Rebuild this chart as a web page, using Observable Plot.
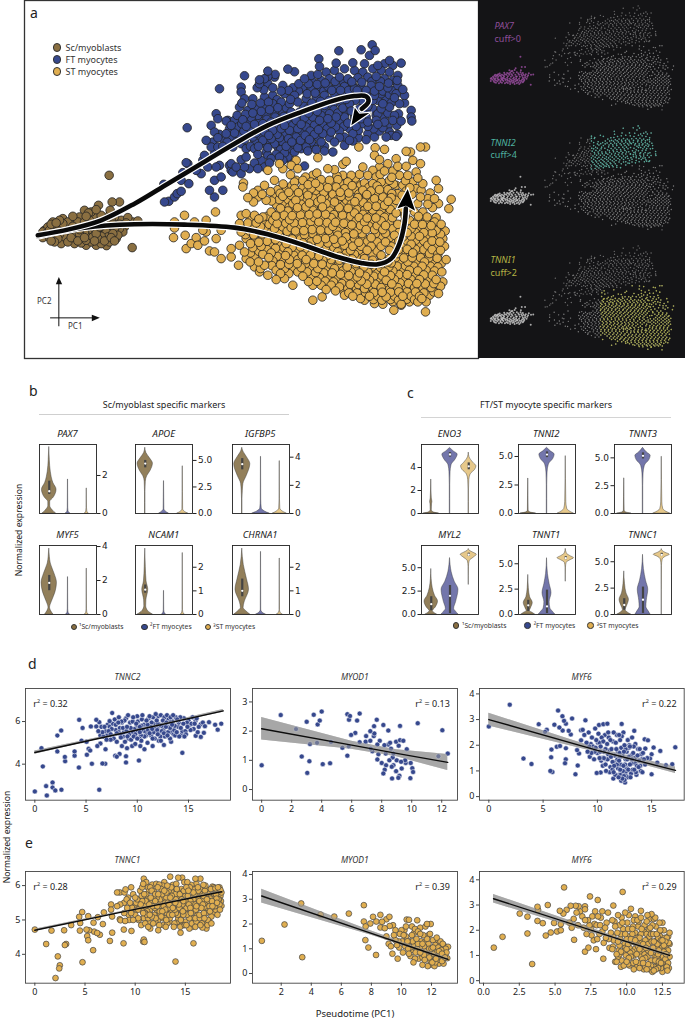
<!DOCTYPE html>
<html><head><meta charset="utf-8">
<script src="https://cdn.jsdelivr.net/npm/d3@7"></script>
<script src="https://cdn.jsdelivr.net/npm/@observablehq/plot@0.6"></script>
<style>
html,body{margin:0;padding:0;background:#fff}
#page{position:relative;width:685px;height:1019px;overflow:hidden;font-family:"Noto Sans",sans-serif;color:#222}
#page svg{position:absolute;background:transparent;overflow:visible;max-width:none}
.t{position:absolute;white-space:nowrap;line-height:1}
.c{position:absolute;border-radius:50%;box-sizing:border-box;border:.6px solid #333}
</style></head><body><div id="page"></div>
<script>
/* ---------- colours ---------- */
const brown="#8A6F41",blue="#36488D",gold="#E0AE50";
const violinBrown="#927F5A",violinBlue="#7376AB",violinGold="#E6C88A";

/* ---------- panel a: PCA positions, read in arbitrary PC units as flat x,y lists ---------- */
const scMyoblasts=[324,525,393,742,333,605,355,605,292,615,285,628,327,630,250,630,262,638,325,645,235,650,278,648,380,652,410,662,395,665,185,655,165,668,150,672,200,665,220,660,245,655,265,660,290,665,310,655,345,665,360,660,130,690,140,680,175,680,195,682,215,678,240,675,260,680,280,685,300,678,320,680,340,685,370,680,125,712,150,722,170,715,190,720,210,712,230,722,250,712,270,725,290,715,310,722,330,712,350,705,365,695,200,700,220,695,250,695,150,700,180,730,220,730,255,735,285,735,316,736,340,722,300,730,
125,695,135,700,145,690,155,695,160,708,170,692,180,700,185,670,195,695,205,705,210,690,225,705,235,688,240,710,255,720,260,700,275,695,275,710,285,700,295,695,305,705,315,695,320,710,335,700,345,695,355,685,375,668,170,668,190,670,210,670,230,665,250,665,270,670,295,680,315,665,335,672,355,672,145,712,160,725,200,725,240,728,265,712,280,722,300,708,325,725,345,715,160,680,205,690,255,648,270,635,340,650,330,660,300,645,175,660,155,665,215,648,190,710,175,702,235,700];
const ftMyocytes=[655,265,730,226,558,382,630,375,1113,133,1013,151,953,175,1080,148,1122,150,1105,165,1200,188,1165,180,1055,187,1005,188,955,198,1090,190,1130,195,1150,190,1175,195,800,212,860,206,880,214,775,238,790,235,820,230,930,225,950,222,975,215,1000,210,1030,205,1060,210,1085,215,1115,205,1140,210,1165,215,1190,225,720,260,720,275,775,250,800,250,845,255,875,262,910,235,935,245,960,240,985,235,1015,230,1040,235,1070,232,1100,230,1125,228,1150,235,1175,240,1205,267,1175,270,730,295,755,295,790,290,815,285,850,280,880,285,905,265,930,268,955,265,980,258,1005,255,1030,258,1055,255,1080,260,1110,255,1135,258,1160,262,1190,255,645,340,715,320,740,330,765,325,790,320,815,310,840,305,865,310,890,305,915,295,945,290,970,285,1000,280,1025,285,1050,280,1130,300,1155,295,1180,292,1210,308,1230,330,1230,350,1232,362,650,355,680,360,700,360,725,358,750,352,770,345,795,345,820,338,845,335,870,335,895,335,920,325,945,320,970,315,995,315,1020,310,1045,310,1115,325,1140,325,1165,320,1192,340,1150,350,1125,345,1095,350,1080,355,640,395,655,402,685,385,710,380,735,378,760,372,785,370,810,365,835,360,860,360,885,360,910,352,935,350,960,345,985,340,1010,338,1035,335,1060,350,615,420,635,425,665,415,690,410,715,405,740,400,765,398,790,395,815,390,840,385,865,390,890,385,915,380,940,375,965,372,990,368,1015,365,1040,368,1065,378,1100,378,1130,372,1160,380,1187,375,1165,395,1185,408,1190,402,665,438,695,440,720,430,760,420,785,420,810,415,835,412,862,415,885,410,912,405,940,402,965,400,990,395,1015,392,1055,400,1100,400,1135,392,640,460,735,445,760,445,800,442,830,440,855,438,880,432,905,430,930,425,960,425,1000,425,1030,435,1055,422,1095,418,770,462,800,465,825,462,850,458,880,455,900,445,920,452,945,448,970,452,995,455,1045,420,685,495,720,478,735,470,760,488,780,480,805,488,845,480,870,480,910,497,555,487,560,490,605,480,645,500,655,495,690,510,695,515,720,520,745,505,600,520,545,517,640,540,660,530,488,552,563,550,625,570,640,590,665,570,528,580,540,573,490,605,503,603,
800,228,822,222,768,262,788,268,815,262,840,272,862,270,893,250,922,250,948,252,972,248,1002,243,1028,245,1052,244,1082,245,1112,243,1138,243,1162,248,1188,240,1145,272,1120,272,1095,270,1068,270,1042,270,1018,270,992,270,968,272,942,278,918,280,892,272,868,297,828,298,802,305,778,308,752,312,722,308,1210,285,1185,280,1165,283,1140,280,908,318,932,308,958,303,984,300,1010,297,1035,297,855,322,830,322,805,328,780,333,755,338,733,342,708,345,675,362,690,375,722,370,748,365,772,360,797,357,822,350,848,348,873,347,898,345,922,338,948,333,972,330,998,328,1025,323,1145,310,1170,308,1195,310,1130,340,1160,338,1180,345,1200,362,1175,360,1150,365,1125,360,1100,365,1082,370,1072,390,1045,385,1030,350,1005,350,980,355,955,360,925,365,900,372,875,375,850,375,825,375,800,380,775,385,750,388,728,392,700,398,675,400,650,412,630,440,678,425,705,425,730,418,755,410,778,408,803,405,828,402,852,402,877,398,902,392,927,392,952,388,978,385,1003,380,1028,378,1118,385,1145,382,1170,405,1120,410,1155,410,1015,412,985,412,952,412,925,418,898,420,872,425,845,425,820,430,795,432,772,438,748,438,795,455,838,448,865,445,890,442,915,440,940,438,970,438,1030,410,1072,412,690,490,705,500,730,500,810,475,770,505,835,470,860,470,790,500,610,465,650,440,620,500,585,510,520,590,540,540,
1062,300,1085,305,1105,290,1075,325,1100,318,1050,332,1085,338,1115,300,1060,265,1090,280,1120,285,1062,350,1095,335];
const stMyocytes=[1073,440,1122,442,1150,447,1215,453,1258,440,1273,440,1120,465,1228,455,885,480,950,472,1035,483,1135,478,1185,475,1235,480,835,490,870,495,890,505,1025,492,1085,500,1135,500,1160,490,1190,498,1215,498,1258,490,800,510,845,505,980,505,1000,508,1115,510,1150,512,1175,512,1245,515,820,540,885,540,935,525,1025,525,1050,525,1075,522,1100,525,1125,530,1195,525,1220,525,880,545,905,540,930,545,960,538,985,540,1010,538,1040,545,1065,545,1090,548,1115,550,1140,545,1165,540,1185,555,1205,555,1235,545,1265,550,1305,540,725,560,770,570,790,555,830,568,855,565,880,565,905,562,930,565,955,560,980,562,1005,560,1030,565,1060,568,1085,570,1110,572,1135,568,1160,568,1190,580,1215,572,1245,565,1260,570,1312,565,740,592,770,590,795,600,820,590,845,588,870,585,895,590,920,585,945,582,970,588,995,582,1020,588,1045,590,1070,592,1095,595,1120,595,1145,590,1170,592,1195,605,1258,590,1280,595,1300,595,1350,597,757,605,825,612,850,610,875,610,900,612,925,608,950,605,975,610,1000,605,1025,612,1050,612,1075,615,1100,618,1125,618,1150,615,1175,615,1250,610,1280,612,1312,610,550,645,643,635,615,660,580,665,720,645,735,640,760,645,785,650,810,635,835,635,860,632,885,635,910,632,935,630,960,628,985,632,1010,630,1035,635,1060,638,1085,642,1110,640,1135,642,1160,640,1185,638,1240,635,1265,635,1343,625,520,665,520,683,605,690,660,690,715,670,740,668,765,668,790,660,815,660,840,655,865,658,890,655,915,655,940,652,965,655,990,652,1015,655,1040,660,1065,662,1090,665,1115,665,1140,662,1165,665,1225,660,1250,660,1275,662,1300,665,1320,672,517,712,552,705,585,712,615,695,645,715,720,695,745,692,770,690,795,685,820,685,845,680,870,682,895,680,920,678,945,675,970,680,995,678,1020,680,1045,685,1070,688,1095,688,1120,688,1145,688,1175,685,1230,685,1255,685,1280,685,1305,690,1332,692,555,745,570,730,590,735,610,722,625,752,640,755,660,775,690,745,715,735,735,715,760,718,785,712,810,710,835,705,860,705,885,703,910,703,935,700,960,705,985,702,1010,705,1035,710,1060,715,1085,712,1110,712,1140,710,1165,712,1205,710,1230,708,1255,708,1280,710,1305,712,1325,715,712,795,690,770,730,755,755,742,780,738,805,735,830,730,855,730,880,728,905,728,930,725,955,730,980,728,1005,730,1030,735,1055,738,1080,738,1110,738,1140,738,1170,738,1205,735,1230,732,1255,735,1280,735,1305,735,1330,738,735,775,760,770,785,762,810,758,835,755,860,755,885,752,910,752,935,750,960,755,985,752,1010,755,1035,760,1060,762,1085,762,1115,762,1140,765,1210,760,1235,758,1260,760,1285,760,1310,762,1335,778,760,800,790,795,815,782,840,780,865,778,890,778,915,778,940,775,965,780,990,778,1015,780,1040,788,1065,790,1170,788,1195,785,1220,785,1245,785,1270,785,1295,785,1320,790,775,815,800,825,825,810,850,805,875,805,900,802,925,802,950,805,975,805,1000,805,1025,812,1050,815,1075,818,1100,815,1125,815,1150,815,1175,812,1200,810,1225,810,1250,812,1275,810,1300,812,1322,815,825,838,850,835,875,855,905,828,930,830,955,832,980,830,1005,835,1030,840,1055,840,1080,842,1105,840,1130,840,1155,840,1180,838,1205,835,1230,838,1255,838,1280,838,1305,838,1325,845,935,855,960,855,990,855,1015,860,1040,865,1065,865,1090,865,1115,865,1140,862,1165,865,1190,862,1215,862,1240,862,1265,865,1290,862,1312,880,935,900,963,890,1030,885,1055,888,1078,895,1105,888,1130,888,1155,890,1180,888,1205,888,1230,888,1255,888,1285,885,1120,910,1145,912,1175,905,1200,912,1225,905,1250,905,1275,905,1178,930,1200,915,1273,935,
868,523,913,530,947,518,1007,527,1063,533,1137,522,1172,531,1213,541,1250,533,727,548,846,551,872,556,921,553,943,549,973,553,997,548,1022,552,1053,556,1077,557,1103,561,1128,557,1152,556,1177,551,1226,562,757,578,783,582,808,574,837,579,863,576,892,577,917,574,943,571,968,576,992,572,1017,576,1043,578,1073,581,1097,583,1123,584,1148,579,1172,580,1203,585,1232,582,1287,578,811,602,834,598,861,598,884,600,912,599,936,594,961,597,986,596,1010,597,1036,600,1061,604,1086,606,1110,607,1136,606,1161,603,1185,600,838,624,864,621,889,622,914,620,938,618,964,620,988,618,1014,622,1041,624,1066,627,1090,630,1115,629,1140,630,1167,627,1294,622,748,655,773,656,798,648,824,647,849,645,873,646,898,644,924,643,948,641,973,642,998,643,1024,645,1048,648,1074,652,1098,653,1124,653,1150,651,1174,652,1212,648,1252,648,1278,650,1305,652,728,682,753,680,778,679,804,672,828,670,854,669,879,668,904,667,929,664,953,665,978,667,1003,666,1028,669,1052,674,1078,676,1103,677,1128,676,1153,676,1190,672,1240,672,1264,673,1290,676,1314,678,733,703,758,704,783,701,808,698,833,693,858,693,883,692,908,691,933,688,958,690,983,690,1008,692,1033,697,1058,701,1083,700,1123,700,1153,699,1218,697,1243,697,1268,697,1293,698,1318,702,748,730,773,726,798,723,823,718,848,718,873,716,898,716,923,714,948,717,973,715,998,717,1023,722,1048,726,1073,726,1098,725,1128,725,1153,725,1193,722,1218,722,1243,720,1268,722,1293,722,1316,725,748,758,773,753,798,748,823,744,848,742,873,741,898,740,923,738,948,742,973,740,998,742,1023,747,1048,750,1073,750,1098,750,1128,752,1192,748,1218,747,1243,747,1268,748,1293,748,1318,750,747,785,772,785,803,772,828,768,853,766,878,765,903,765,928,764,953,768,978,766,1003,767,1028,774,1053,776,1183,773,1208,773,1233,772,1258,772,1283,773,1308,774,778,805,812,796,838,793,863,792,888,790,913,790,938,790,963,792,988,792,1013,793,1038,800,1063,803,1088,800,1113,800,1138,802,1163,800,1188,798,1213,797,1238,798,1263,798,1288,798,1310,800,838,820,863,820,890,815,918,815,943,817,968,818,993,818,1018,822,1043,826,1068,830,1093,828,1118,828,1143,827,1168,826,1193,823,1218,823,1243,824,1268,824,1293,825,922,844,947,843,972,843,997,845,1022,850,1047,852,1072,853,1097,852,1122,852,1147,851,1172,851,1197,848,1222,850,1247,850,1272,851,1298,850,1318,858,975,868,1003,872,1028,872,1043,878,1068,878,1093,877,1118,877,1143,876,1168,876,1193,875,1218,875,1243,875,1268,878,1298,875,1090,900,1117,898,1142,900,1168,898,1192,900,1217,897,1240,898,1262,895,
1065,770,1090,775,1115,780,1140,778,1165,775,1085,790,1110,792,1135,790,1160,785,1190,760,1180,720,1195,695,1205,670,1210,640,1200,625,1215,600,1225,620,1180,705,1165,750,1040,770,1015,768];

/* ---------- arrows of panel a ---------- */
const ftPath=[[110,705],[200,688],[300,660],[400,610],[500,550],[600,490],[700,430],[800,375],[900,335],[1000,300],[1060,287],[1095,288],[1102,303],[1082,325]];
const ftHead=[[1048,378],[1060,318],[1075,338],[1112,335]];
const stPath=[[110,708],[250,682],[400,672],[550,673],[700,682],[800,702],[900,732],[1000,767],[1080,788],[1130,792],[1170,775],[1195,730],[1210,670],[1214,625]];
const stHead=[[1220,562],[1185,627],[1214,618],[1245,635]];
const pc2Axis=[[173,977],[173,845]],pc2Head=[[173,830],[164,852],[183,852]];
const pc1Axis=[[148,953],[280,953]],pc1Head=[[296,953],[272,944],[272,963]];

/* ---------- panels b, c: violin profiles, [expression, half width] for Sc, FT, ST ---------- */
const PAX7=[[[0,.36],[.15,.2],[.4,.05],[.6,.05],[.85,.25],[1.25,.39],[1.6,.22],[2.2,.08],[2.8,.03],[3.5,0]],[[0,.12],[.1,.03],[.3,.012],[1.79,.004]],[[0,.1],[.1,.03],[.3,.012],[1.32,.004]]];
const APOE=[[[0,.012],[2,.012],[3,.03],[3.5,.1],[4,.28],[4.7,.41],[5.2,.25],[5.7,.06],[6.2,0]],[[0,.25],[.15,.12],[.4,.02],[1.5,.012],[3.05,.004]],[[0,.28],[.15,.12],[.4,.02],[2,.012],[4.45,.004]]];
const IGFBP5=[[[0,.012],[1,.012],[1.6,.03],[2.1,.06],[2.7,.25],[3.5,.43],[4,.25],[4.4,.06],[4.67,0]],[[0,.45],[.15,.2],[.35,.04],[1,.012],[4.03,.004]],[[0,.36],[.15,.15],[.35,.03],[1,.012],[3.72,.004]]];
const MYF5=[[[0,.22],[.2,.1],[.4,.04],[.7,.12],[1.3,.33],[1.86,.41],[2.4,.28],[3,.08],[3.4,.03],[3.88,0]],[[0,.1],[.1,.03],[.3,.012],[2.2,.004]],[[0,.1],[.1,.03],[.3,.012],[2.7,.004]]];
const NCAM1=[[[0,.4],[.15,.15],[.35,.05],[.6,.06],[1.05,.16],[1.4,.07],[2,.03],[2.79,0]],[[0,.1],[.08,.03],[.2,.012],[1,.004]],[[0,.1],[.08,.03],[.2,.012],[2.6,.004]]];
const CHRNA1=[[[0,.42],[.15,.2],[.28,.07],[.5,.12],[1.05,.36],[1.5,.25],[2.1,.08],[2.79,0]],[[0,.25],[.08,.08],[.2,.012],[2.65,.004]],[[0,.15],[.08,.04],[.2,.012],[2.37,.004]]];
const ENO3=[[[0,.4],[.1,.12],[.3,.03],[.8,.04],[1,.06],[1.3,.03],[2,.012],[2.95,.003]],[[0,.012],[2.5,.012],[3.6,.03],[4.2,.08],[4.7,.3],[5.13,.41],[5.4,.2],[5.7,0]],[[0,.012],[2,.012],[2.9,.03],[3.4,.1],[3.8,.34],[4.1,.41],[4.4,.25],[4.9,.04],[5.3,0]]];
const TNNI2=[[[0,.4],[.1,.1],[.25,.02],[1.5,.012],[3.07,.003]],[[0,.012],[2.5,.012],[3.6,.03],[4.3,.1],[4.8,.34],[5.17,.41],[5.45,.2],[5.76,0]],[[0,.42],[.2,.2],[.4,.08],[1,.03],[3,.012],[5.03,.003]]];
const TNNT3=[[[0,.36],[.1,.1],[.25,.02],[1.5,.012],[3.16,.003]],[[0,.012],[2.5,.012],[3.6,.03],[4.3,.1],[4.8,.34],[5.18,.41],[5.5,.2],[5.9,0]],[[0,.44],[.2,.2],[.4,.08],[1,.03],[3,.012],[5.1,.003]]];
const MYL2=[[[0,.3],[.2,.15],[.35,.08],[.7,.22],[1.4,.36],[2,.2],[2.8,.08],[3.8,.02],[4.86,0]],[[0,.45],[.3,.32],[.6,.22],[1.3,.32],[2.66,.45],[3.5,.25],[4.5,.09],[5.3,.03],[6.03,0]],[[3.2,.003],[5.1,.012],[5.7,.05],[6.1,.28],[6.38,.43],[6.6,.25],[6.8,.06],[7,0]]];
const TNNT1=[[[0,.36],[.2,.2],[.33,.08],[.6,.14],[1.14,.24],[1.7,.1],[2.6,.03],[3.9,0]],[[0,.44],[.3,.3],[.6,.18],[1.2,.14],[2.1,.24],[3,.14],[4,.05],[5.55,0]],[[3.27,.003],[4.6,.012],[5.1,.05],[5.35,.25],[5.55,.44],[5.75,.25],[6,.06],[6.47,0]]];
const TNNC1v=[[[0,.36],[.2,.18],[.4,.07],[.8,.15],[1.4,.25],[2,.12],[2.9,.04],[4.09,0]],[[0,.4],[.3,.3],[.7,.18],[1.3,.2],[2.35,.28],[3.2,.16],[4.3,.05],[5.66,0]],[[0,.003],[4.6,.012],[5.2,.05],[5.48,.22],[5.66,.43],[5.85,.2],[6,.06],[6.2,0]]];
const PAX7_box=[1,1.17,1.7],APOE_box=[4.3,4.7,5],IGFBP5_box=[3.1,3.5,3.9],MYF5_box=[1.4,1.86,2.3],NCAM1_box=[.9,1.05,1.25],CHRNA1_box=[.75,1,1.5];
const ENO3_box=[4.9,5.13,5.3],TNNI2_box=[4.9,5.17,5.4],TNNT3_box=[4.9,5.18,5.45],ENO3g_box=[3.8,4.1,4.4];
const MYL2_box=[.4,1.1,1.9],MYL2b_box=[.1,2,3.1],TNNT1_box=[.3,.9,1.4],TNNT1b_box=[.1,.8,2.4],TNNC1_box=[.4,.9,1.5],TNNC1b_box=[.1,1.4,2.6];
const MYL2g_box=[6.2,6.38,6.55],TNNT1g_box=[5.4,5.55,5.7],TNNC1g_box=[5.55,5.66,5.8];

/* ---------- panel d: pseudotime, expression ---------- */
const fT_TNNC2=[0,2.72,.65,4.75,.78,3.89,1.1,2.97,1.17,2.53,1.73,3.14,1.73,2.9,2,2.77,2.6,2.8,2.2,5.34,2.57,5.58,2.2,4.6,2.93,4.34,2.96,4.14,3.88,4.6,3.88,4.4,4.3,3.84,4.33,6.08,4.66,5.7,4.56,5.1,5.08,4.44,5.05,5.05,5.25,4.72,5.4,4.64,5.57,4.02,6.29,2.8,6.6,4.03,6.87,4.02,6,6.08,6.29,5.97,5.47,5.77,6,5.77,6.1,4.85,6.4,4.97,6.9,4.7,7.85,4.4,8.27,4.48,8,4.35,8.9,4.37,8.9,4.08,10.16,4.17,14.4,4.53,17,5.97,17.6,5.85,17.85,5.62,18.2,5.9,16.6,5.78,16.5,5.47,16.2,5.87,16.2,5.28,15.7,5.33,7.55,6.4,
6.2,5.55,6.5,5.75,6.7,5.3,6.9,5.55,7,5.15,7.1,5.85,7.3,6.02,7.4,5.4,7.5,5.65,7.7,5.2,7.8,6.1,7.9,5.85,8,5.45,8,5.05,8.2,6.2,8.3,5.7,8.4,5.25,8.5,4.85,8.5,5.95,8.7,5.5,8.8,5.05,8.9,6.15,9,5.75,9,4.75,9.2,5.4,9.3,5.95,9.4,5.15,9.5,4.85,9.6,6.2,9.7,5.65,9.8,5.4,9.8,4.95,9.9,5.9,10,6.25,10.1,5.55,10.2,5.2,10.3,4.85,10.4,5.8,10.5,6.3,10.6,5.6,10.7,5.3,10.7,4.7,10.9,6.05,11,5.75,11,5,11.2,5.45,11.2,6.25,11.4,5.95,11.5,5.2,11.5,4.85,11.7,5.65,11.8,6.35,11.9,6.05,12,5.4,12.1,5.1,12.2,5.85,12.3,6.3,12.4,5.55,12.5,6.05,12.6,4.9,12.7,5.3,12.8,5.75,12.9,6.3,13,5.5,13.1,6,13.2,5.2,13.4,5.85,13.5,6.3,13.6,5.6,13.7,5.35,13.9,6.1,14,5.75,14.1,5.3,14.2,6.2,14.4,5.55,14.5,5.9,14.6,5.3,14.9,5.75,15,6.05,15.2,5.6,15.4,6.2,15.6,5.9,15.8,6.15,7.4,5.15,8.6,5.3,9.1,6.3,10.4,5.1,11.7,5.2,12.3,5.1,13.3,5.05,6.6,5.5,7.2,5.55,8.2,5.5,9.6,5.5,10.8,5.5,12,5.7,13.2,5.7,
6.4,5.35,7.6,5.9,7.9,5.6,8.15,5.95,8.35,5.4,8.6,5.7,8.75,6.05,8.95,5.55,9.15,5.2,9.35,5.7,9.55,6,9.65,5.3,9.9,5.6,10,5.2,10.05,6,10.25,5.75,10.35,5.35,10.45,6.1,10.65,5.85,10.85,5.35,11.05,5.6,11.1,6.15,11.3,5.75,11.35,5.35,11.55,6.2,11.6,5.5,11.75,5.9,11.95,5.6,12.05,6.25,12.15,5.55,12.25,5.3,12.45,5.75,12.6,5.45,12.65,6.2,12.85,5.95,12.95,5.35,13.05,5.75,13.25,6.2,13.35,5.5,13.45,6,13.65,5.8,13.75,6.2,13.85,5.5,14.05,5.95,14.25,5.7,14.35,5.4,14.55,6.15,14.7,5.55,14.85,5.95,15.1,5.85,15.3,5.9,15.5,5.65,15.7,6.05,16,5.75,16.4,5.95,9.05,5.3,10,5.75,11,5.85,12,5.9,13,6.15,14,6.05,8.45,6,7.05,5.35,7.3,5.75,6.8,5.75,10.25,5.5,11.45,5.65,12.55,5.6,13.55,5.4,14.75,5.4,15.9,5.5];
const fT_MYOD1=[0,.83,1.27,2.55,2.29,2.07,2.67,1.13,3,2.32,3.04,.57,3.18,.97,3.22,1.56,3.47,2.56,3.69,1.6,3.73,2.23,3.87,2.36,4,2.67,4.07,.87,4.56,.9,4.62,1.63,5.38,1.43,5.71,2.58,5.89,2.52,5.82,2.39,6.36,2.36,6.53,2.6,5.8,1.48,5.71,1.16,5.96,1.87,6.24,1.94,6.53,1.62,6.96,1.83,6.93,1.64,7.24,2,7.24,1.67,7.27,1.4,7.38,1.31,7.49,2.17,7.51,1.92,7.47,1.83,7.67,2.39,7.71,1.54,7.71,1.03,7.78,1.21,7.87,1.67,8,.91,8.11,2.21,8.11,.55,8.2,.68,8.29,.83,8.27,1.23,8.18,1.52,8.44,2.02,8.51,1,8.44,1.54,8.56,1.6,8.62,1.4,8.67,.78,8.69,.38,8.78,.83,8.78,1.23,8.73,1.1,8.96,1.64,9,1,8.96,.63,9.11,.4,9.18,.47,9.22,2.18,9.22,1.69,9.13,1.5,9.29,.95,9.33,.72,9.44,1.67,9.56,1,9.67,1.38,9.6,.91,9.93,.91,9.91,.39,10.04,.73,10.09,.6,10.4,2.27,11.78,1.14,12.04,2.03,12.4,1.23];
const fT_MYF6=[0,2.73,1.93,3.58,3.19,1.48,3.93,1.27,4.6,2.82,5.34,2.6,5.18,2.52,5.67,1,5.86,.96,5.74,1.53,5.77,1.83,6.04,2.8,6.26,1.94,6.56,1.97,6.38,3.35,6.5,2.69,6.78,3.13,6.93,2.95,7.1,2.84,6.8,2.57,7.36,2.56,7.55,2.42,7.67,3.04,7.1,1.88,7.09,1.45,7.02,1.3,7.98,.87,8.19,1.21,8.13,1.81,8.31,1.68,8.5,2.19,8.5,2.58,8.65,2.6,8.9,2.97,9.94,.92,10.3,.94,10.15,2.79,10.55,2.82,10.92,2.84,12.24,2.83,13.4,2.56,14.36,2.23,14.66,2.19,15.18,1.91,14.42,1.87,15.8,1.78,15.52,1.32,15,.87,16.32,1.22,16.9,1.26,17.18,1.92,15,1.65,14.85,1.48,12.55,.55,11.47,.7,
8.8,2.4,9,2.1,9.1,1.75,9.2,2.5,9.3,1.55,9.5,2.3,9.6,1.95,9.7,1.45,9.8,2.65,9.9,2.2,10,1.7,10.1,2.45,10.2,1.5,10.3,1.95,10.4,2.3,10.5,1.2,10.6,1.75,10.7,2.4,10.8,1,10.8,1.45,10.9,2.05,11,2.5,11,1.65,11.2,1.15,11.2,2.2,11.3,1.85,11.4,1.35,11.5,2.5,11.5,.95,11.6,1.6,11.7,2.1,11.8,1.25,11.8,2.4,11.9,1.75,12,.85,12,1.4,12.1,2.2,12.1,1.05,12.2,1.9,12.3,1.6,12.3,.7,12.4,1.2,12.4,2.5,12.5,2,12.6,1.45,12.6,.95,12.7,1.75,12.7,1.1,12.8,2.2,12.8,.75,12.9,1.55,13,1.25,13,1.95,13.1,.9,13.2,2.3,13.2,1.45,13.3,1.7,13.4,1.05,13.5,2.05,13.5,1.3,13.6,.85,13.7,1.6,13.8,1.15,13.9,1.85,14,1,14.1,1.45,14.2,1.7,14.4,1.25,14.6,1.5,12.5,.65,12.2,.62,12.1,1.55,11.6,1.35,11.1,1.8,10.6,1.5,13.1,1.6,12.9,1.9,11.9,1.1,11.4,1.05,12.6,1.85,12,2.4,10.2,2.1,9.4,2.05,
9.25,1.95,9.45,1.7,9.85,1.9,10.05,2.1,10.25,1.75,10.45,1.5,10.55,2.15,10.75,1.25,10.75,1.85,10.95,1.45,11.05,2.3,11.15,.95,11.35,1.6,11.45,2.15,11.55,1.2,11.65,.85,11.75,1.85,11.85,1.45,11.95,.75,12.05,1.7,12.15,1.25,12.25,2.35,12.35,1,12.45,1.75,12.55,1.25,12.65,.8,12.75,1.45,12.85,1.05,12.95,2,13.05,.75,13.15,1.3,13.25,1.05,13.35,1.95,13.45,1.5,13.55,.95,13.65,1.2,13.75,1.85,13.85,1.4,13.95,1.2,14.05,1.65,14.15,.95,14.3,1.45,11.25,1.55,10.35,1.4,9.75,1.75,12.15,.85,12.45,.8];

/* ---------- panel e ---------- */
const sT_TNNC1=[0,4.72,1.13,4.3,1.66,4.69,2.92,4.7,2.29,3.94,2.49,3.68,2.43,3.59,2.06,3.31,2.99,4.27,3.12,4.3,3.62,4.85,4.42,5.09,4.72,5.23,4.49,4.69,4.52,4.91,4.75,3.77,5.15,4.72,5.41,4.7,5.22,4.53,5.32,4.41,5.32,5.11,5.85,4.92,5.81,4.12,5.91,4.66,6.21,4.62,6.48,4.57,6.28,5.08,6.78,4.88,6.88,5.22,7.48,4.39,7.71,4.63,8.84,4.32,8.87,4.72,9.63,4.68,10.8,4.37,10.93,4.36,10.86,4.43,14.02,3.79,15.81,4.32,14.52,4.63,8.54,4.99,8.47,5.02,8.2,5.8,8.47,5.8,9.04,5.89,8.94,5.8,10.86,6.2,13.49,6.26,14.29,6.23,14.68,6.23,16,6.2,16.5,6.2,18.6,5.41,
7.6,5.45,7.6,5.3,7.7,5.1,8.2,5.4,8.5,5.45,8.9,5.5,8.9,5.2,9,4.97,9.2,5.35,9.3,5.65,9.4,5,9.5,5.5,9.6,5.2,9.8,5.75,9.8,5,10,5.4,10,5.15,10.2,5.6,10.3,5.05,10.4,5.35,10.5,5.85,10.6,4.85,10.7,5.55,10.8,6.05,10.8,5.2,10.9,5.75,11,4.9,11,5.4,11.1,6.1,11.2,5.6,11.3,5.05,11.4,5.85,11.5,4.75,11.5,5.3,11.7,6.03,11.7,5.55,11.8,4.9,11.9,5.15,12,5.75,12.1,6.05,12.2,5.4,12.3,4.7,12.3,5,12.5,5.6,12.6,5.9,12.7,5.25,12.8,4.85,12.9,6.1,13,5.5,13,5.05,13.1,5.8,13.3,5.35,13.4,4.95,13.5,5.65,13.6,5.95,13.7,5.15,13.8,5.45,13.9,4.9,14,5.75,14.1,6.05,14.2,5.3,14.3,5.05,14.4,5.6,14.5,4.8,14.6,5.9,14.7,5.45,14.8,5.15,14.9,6.1,15,5.7,15,4.95,15.1,5.35,15.3,5.85,15.4,5.05,15.5,5.55,15.6,6.02,15.7,4.8,15.8,5.25,15.9,5.75,16,5.45,16.1,6.05,16.1,4.95,16.3,5.6,16.4,5.15,16.5,5.9,16.6,5.35,16.7,4.78,16.8,5.7,16.9,5.05,17,5.5,17,6,17.1,4.75,17.2,5.25,17.3,5.85,17.4,5.4,17.5,5.62,17.6,5.1,17.7,5.97,17.8,5.5,17.9,5.75,18,5.3,18,5.92,18.1,5.62,18.2,5.15,18.3,5.8,18.4,5.45,18.5,5.7,18.5,5.87,18.4,5.95,17.4,4.95,16.8,6.02,16.2,5.8,15.2,6.1,14.4,5.35,13.2,6,12.4,6.03,12,4.95,11.2,5.25,10.4,5.6,9.6,5.95,10,5.65,11.4,5.45,12.6,5.4,13.6,5.5,14.8,5.55,15.8,5.6,17,5.7,16.4,5.55,15.6,5.3,14.6,5.1,13.4,5.15,12.2,5.2,17.6,5.35,16,5.05,15,5.3,14,5.5,13,5.3,12,5.55,
10.15,5.3,10.35,5,10.55,5.45,10.65,5.7,10.85,5.05,11.05,5.55,11.15,5.15,11.25,5.95,11.35,4.95,11.55,5.65,11.65,5.1,11.75,5.4,11.85,5.85,11.95,5.35,12.05,5.05,12.15,5.65,12.25,5.95,12.4,4.85,12.45,5.25,12.55,5.5,12.7,5.75,12.75,5.05,12.85,5.4,12.95,5.65,13.05,4.8,13.15,5.2,13.25,5.5,13.35,5.85,13.45,5.05,13.55,5.3,13.65,5.7,13.75,6.02,13.85,4.8,13.95,5.3,14.05,5.6,14.15,5.9,14.25,5.15,14.35,5.45,14.45,5.75,14.55,5,14.65,5.6,14.75,5.25,14.85,5.85,14.95,4.85,15.05,5.5,15.15,5.15,15.25,5.7,15.35,5.45,15.45,5.95,15.55,5.2,15.65,5.65,15.75,5.05,15.85,5.9,15.95,4.95,16.05,5.3,16.15,5.65,16.25,5.95,16.35,5.35,16.45,5.05,16.55,5.75,16.65,4.9,16.75,5.45,16.85,5.2,16.95,5.85,17.05,5.35,17.15,5.6,17.25,5,17.35,5.75,17.45,5.25,17.55,5.9,17.65,5.55,17.75,5.2,17.85,5.95,17.95,5.4,18.05,5.75,18.15,5.5,18.25,5.95,18.35,5.6,18.45,5.3,18.55,5.55,18.6,5.8,
11.3,4.8,12.6,5.1,13.2,4.9,13.8,5.2,14.2,4.95,14.8,4.85,15.4,4.75,16,4.8,16.5,4.85,17.2,4.85,17.6,4.9,10.7,5.95,11.5,5.95,12.3,5.75,12.9,5.85,13.7,5.8,14.3,5.8,15,5.55,15.7,5.45,16.3,5.85,17.1,5.9,17.9,5.6,10.1,5.5,9.35,5.15,9.15,5.6,9.7,5.35,10.3,5.3,11,5.2,
10.75,5.25,11.1,5.75,11.45,5.15,11.8,5.65,12.15,5.3,12.5,5.15,12.85,5.55,13.1,5.65,13.4,5.45,13.75,5.35,14.05,5.2,14.35,5.7,14.7,5.7,14.95,5.35,15.2,5.85,15.5,5.35,15.8,5.8,16.1,5.4,16.45,5.5,16.75,5.6,17.05,5.2,17.35,5.55,17.7,5.4,18,5.55,18.3,5.6,15.1,4.85,14.4,4.9,13.1,5.0,16.9,4.95,16.2,5.15,15.65,4.9,15.1,5.95,13.95,5.95,12.75,6.0,11.65,5.85];
const sT_MYOD1=[.71,1.32,2.22,1.98,3.33,2.83,3.4,.66,4.62,2.38,5.53,2.3,6.5,2.42,7.5,2.76,7.5,2.1,7.62,1.9,7.6,1.35,7.8,1.05,8.31,.75,7.93,2.02,8.11,2.29,8.33,2.1,8.6,2.37,8.71,2.09,9,2.19,9.2,2.29,8.6,1.86,8.89,1.83,9.22,1.92,9.44,1.95,9,1.5,9.15,1.2,9.3,1.1,9.4,.8,9.5,1.55,9.6,1.35,9.75,.6,9.85,1.05,9.9,1.6,10.05,1.3,10.1,.85,10.2,1.75,10.3,1.5,10.35,2.18,10.45,1,10.5,2.17,10.55,1.3,10.6,.7,10.7,1.9,10.7,1.55,10.8,.45,10.85,1.15,10.95,.85,11,1.4,11.05,2.15,11.1,1.7,11.15,.6,11.2,1.05,11.3,1.3,11.35,.8,11.4,.35,11.45,1.55,11.5,1.1,11.55,.55,11.6,1.9,11.6,.9,11.7,1.4,11.75,.3,11.8,1.2,11.85,.65,11.9,1.6,11.95,2,12,1,12.05,.45,12.1,1.35,12.15,.8,12.2,.3,12.25,1.15,12.3,.6,12.35,1.45,12.4,.9,12.45,1.05,12.5,.4,12.55,.7,12.6,1.3,12.65,.95,12.7,.5,12.8,1.15,12.85,.75,12.95,1,13.05,.62,13.1,1.08,10.9,1.8,11.25,1.6,10.25,1.1,9.7,1.15,11.7,2,12.2,.7,11.5,.75,11.9,.35,12.4,.55,12.1,1.05,11.1,1.2,10.6,1.05,11.8,1.55,
10.15,1.55,10.4,1.3,10.65,.95,10.75,1.3,10.9,.6,11.05,1,11.25,.85,11.4,.65,11.4,1.2,11.6,1.3,11.7,.7,11.85,1,11.95,.5,12,.8,12.1,.6,12.25,.45,12.3,1.3,12.35,.75,12.5,.9,12.5,1.2,12.6,.55,12.7,.8,12.75,1.2,12.8,.4,12.9,.65,13,.85,10.5,.8,10.3,1.9,10.85,1.65,11.25,1.85,10,1.75,9.6,1.75,9.8,1.3];
const sT_MYF6=[.72,1.31,1.33,1.74,2.53,2.66,3.07,2.54,3.07,1.87,3.4,.66,3.77,2.93,3.81,2.81,3.77,2.37,4.14,2.28,4.49,3,4.35,1.79,4.7,1.91,4.93,2.29,5.14,1.95,5.4,2,5.33,2.77,5.63,3.7,5.58,2.66,5.81,2.81,6.09,2.97,5.4,2.24,6.16,2.1,6.33,1.62,6.44,2.97,6.65,2.95,7.09,2.95,7.09,2.83,7.44,3.34,7.98,3.2,9.07,2.98,9.72,3.52,11,2.77,11.74,2.64,8.37,.87,7.09,1.15,7.33,1.31,7.86,1.25,
6,2.3,6.3,2.45,6.5,2.7,6.6,2.2,6.9,2.55,7,2.1,7.2,1.85,7.3,2.4,7.5,2.05,7.6,2.55,7.7,1.6,7.8,2.75,7.9,2.2,8.1,1.85,8.2,2.5,8.3,2.75,8.4,1.5,8.5,2.1,8.7,2.7,8.8,1.3,8.9,1.9,9,2.4,9.1,1.6,9.2,.75,9.2,2.15,9.3,1.05,9.4,2.6,9.5,1.4,9.6,.55,9.6,1.85,9.7,2.3,9.8,1.15,9.9,2.7,10,1.65,10,.75,10.1,2.05,10.2,1.3,10.3,2.85,10.3,.95,10.4,1.85,10.5,2.4,10.5,.45,10.6,1.5,10.7,1.05,10.8,2.15,10.9,.7,10.9,1.7,11,2.5,11.1,1.25,11.2,.45,11.2,1.95,11.3,.9,11.4,2.35,11.5,1.45,11.5,.65,11.6,1.75,11.7,1.1,11.8,2.2,11.8,.35,11.9,1.55,12,.8,12,2.5,12.1,1.3,12.1,1.85,12.2,.5,12.2,1.05,12.3,2.3,12.4,1.6,12.4,.7,12.5,1.15,12.5,.35,12.6,2,12.6,1.4,12.7,.85,12.8,1.7,12.8,.55,12.9,1.2,13,1.9,13,.95,12.95,.5,12.3,1.5,11.3,1.6,10.6,1.9,9.5,2.2,10.2,.6,11,.95,11.7,.6,12.7,1.55,11.4,1.85,10.8,1.35,10.1,1.45,9,1.25,9.4,.95,12.2,1.7,12.5,2.3,11.9,2.45,10.6,2.55,10.4,1.15,11.6,.45,12.3,.9,
9.05,1.75,9.15,2.35,9.35,1.9,9.45,1.2,9.55,1.65,9.65,.8,9.75,2.05,9.85,1.45,9.95,1,10.05,2.3,10.15,1.75,10.25,1.1,10.35,1.55,10.45,2.15,10.55,1.25,10.65,.75,10.75,1.7,10.85,2.35,10.95,1.1,11.05,1.5,11.15,.7,11.25,2.2,11.35,1.3,11.45,.95,11.55,2.05,11.65,.5,11.75,1.55,11.85,1.85,11.95,1,12.05,.45,12.15,1.45,12.25,.75,12.35,2,12.45,1.3,12.55,.6,12.65,1.7,12.75,1.05,12.85,.4,12.95,1.5,12.05,2.15,11.45,2.6,10.75,2.4,10.15,2.6,9.65,2.5,8.6,2.3,8.3,1.95,8,2.55,7.75,2.25,7.4,2.2,7.1,2.4,6.75,2.75,11.05,2.05,11.65,2.1,12.25,1.2,10.45,.7,11.15,1.45,10,1.25,9.8,.6,9.3,.75,12.6,1.15,12.9,.7,12.4,.5,11.9,.55,11.4,.45,10.9,.5,8.75,1.65,9.05,1.35,8.55,1.7,8.15,2.2,7.95,1.65,7.55,1.8,11.6,2.45,12.35,1.75,12.75,1.35,13,1.45,10.6,1.6,11.25,1.05,11.85,1.3,10.15,.9,9.6,1.15,12.1,.6,12.55,.95,
9.5,1.05,9.9,1.3,10.1,.65,10.3,1.65,10.5,1,10.7,.55,10.9,1.25,11.1,.85,11.3,.55,11.5,1.2,11.7,.8,11.9,.4,12.1,.95,12.3,.65,12.5,.7,12.7,.65,12.9,.95,10.9,1.5,11.5,1.65,12.1,1.6,12.5,1.6,12.9,1.75,9.4,1.55,9.9,1.85,10.4,2.05,11,1.85,11.7,1.85,12.3,1.95];

/* ---------- regression lines and bands, [x, fit, low, high] ---------- */
const fitTNNC2=[[0,4.55,4.47,4.62],[9,5.5,5.47,5.53],[18.4,6.5,6.43,6.56]];
const fitMYOD1d=[[0,2.08,1.7,2.47],[6,1.52,1.38,1.65],[9,1.24,1.12,1.36],[12.4,.93,.65,1.2]];
const fitMYF6d=[[0,3,2.75,3.25],[10,1.8,1.72,1.88],[17.2,1.02,.9,1.15]];
const fitTNNC1e=[[0,4.7,4.67,4.73],[9,5.25,5.23,5.27],[18.6,5.82,5.79,5.85]];
const fitMYOD1e=[[.7,3.13,2.85,3.4],[8,1.62,1.55,1.72],[11,1,.94,1.07],[13.1,.57,.5,.64]];
const fitMYF6e=[[.7,3.25,3.08,3.42],[10,1.55,1.48,1.6],[13,1,.93,1.07]];

/* ---------- helpers ---------- */
const page=document.getElementById("page");
const mix=d=>(d.x*713.7+d.y*397.3)%1;            /* draw order only: not a change of any value */
const xy=a=>d3.range(0,a.length,2).map(i=>({x:a[i],y:a[i+1]})).sort((p,q)=>mix(p)-mix(q));
const put=(svg,l,t)=>{svg.style.left=l+"px";svg.style.top=t+"px";page.appendChild(svg)};
function txt(s,x,y,o={}){const e=document.createElement("div");e.className="t";e.textContent=s;
  e.style.left=x+"px";e.style.top=y+"px";e.style.fontSize=(o.size||9)+"px";e.style.color=o.color||"#222";
  e.style.transform=o.rot?`translate(-50%,-50%) rotate(${o.rot}deg)`:o.center?"translate(-50%,-50%)":"translateY(-50%)";
  if(o.it)e.style.fontStyle="italic";page.appendChild(e)}
function sw(x,y,col,d=8){const e=document.createElement("div");e.className="c";e.style.cssText+=`left:${x-d/2}px;top:${y-d/2}px;width:${d}px;height:${d}px;background:${col}`;page.appendChild(e)}
function rule(x1,x2,y,col,h){const e=document.createElement("div");e.style.cssText=`position:absolute;left:${x1}px;top:${y}px;width:${x2-x1}px;height:${h}px;background:${col}`;page.appendChild(e)}

/* ---------- panel a ---------- */
const A={left:24,w:454,h:358};
const aBrown=xy(scMyoblasts),aBlue=xy(ftMyocytes),aGold=xy(stMyocytes);
const dots=(d,c)=>Plot.dot(d,{x:"x",y:"y",r:4.3,fill:c,stroke:"#222",strokeWidth:.8});
const ln=(d,w,c)=>Plot.line(d,{x:d=>d[0],y:d=>d[1],stroke:c,strokeWidth:w,curve:"catmull-rom"});
const poly=(d,f,s,w)=>Plot.line([...d,d[0]],{x:d=>d[0],y:d=>d[1],fill:f,stroke:s,strokeWidth:w,strokeLinejoin:"miter"});
put(Plot.plot({width:A.w,height:A.h,margin:0,
  x:{domain:[70,1432],range:[0,A.w],axis:null},y:{domain:[0,1075],range:[0,A.h],axis:null},
  marks:[dots(aBrown,brown),dots(aBlue,blue),dots(aGold,gold),
    ln(stPath,7,"#fff"),poly(stHead,"#000","#fff",1.2),ln(stPath,4.6,"#0a0a0a"),
    ln(ftPath,7,"#fff"),poly(ftHead,"#000","#fff",1.2),ln(ftPath,4.6,"#0a0a0a"),
    Plot.line(pc2Axis,{x:d=>d[0],y:d=>d[1],stroke:"#111",strokeWidth:1}),poly(pc2Head,"#111","none",0),
    Plot.line(pc1Axis,{x:d=>d[0],y:d=>d[1],stroke:"#111",strokeWidth:1}),poly(pc1Head,"#111","none",0),
    Plot.frame({stroke:"#333",strokeWidth:1.3})]}),A.left,0);
txt("a",30,13,{size:14});
[["Sc/myoblasts",brown,47.3],["FT myocytes",blue,59.3],["ST myocytes",gold,71.3]].forEach(([s,c,y])=>{sw(57,y,c,8.5);txt(s,65.5,y,{size:9,color:"#333"})});
txt("PC2",37,301,{size:8,color:"#333"});txt("PC1",68,326,{size:8,color:"#333"});

/* ---------- dark panel ---------- */
const D=document.createElement("div");D.style.cssText="position:absolute;left:478px;top:0;width:207px;height:358px;background:#141416";page.appendChild(D);
function dark(off,hi,cSc){
  const g=(d,c,r)=>Plot.dot(d,{x:"x",y:"y",r:r||.7,fill:c,stroke:"none",fillOpacity:.8});
  put(Plot.plot({width:207,height:120,margin:0,
    x:{domain:[110,1350],range:[10,195],axis:null},y:{domain:[130,940],range:[5,110],axis:null},
    marks:[g(aBlue,"#868686"),g(aGold,"#9c9c9c"),g(aBrown,cSc||"#cfcfcf",1),...(hi?[g(hi[0],hi[1],.8)]:[])]}),478,off);
}
dark(0,null,"#9c4fa3");
dark(120,[aBlue.filter(d=>d.x>=800&&d.y<470),"#4fb7a3"]);
dark(240,[aGold.filter(d=>d.x>=860),"#b4b545"]);
[["PAX7","cuff>0","#8f4f9a",494.5,25,37.5],["TNNI2","cuff>4","#4fb3a0",490.5,141.5,154],["TNNI1","cuff>2","#b4b545",490.5,259,272]].forEach(([g,c,col,x,y1,y2])=>{txt(g,x,y1,{size:9,color:col,it:1});txt(c,x,y2,{size:9,color:col})});

/* ---------- violins ---------- */
const vcol=[violinBrown,violinBlue,violinGold];
function violin(name,prof,boxes,top,ticks,fmt,left,y,side){
  const marks=[];
  prof.forEach((p,i)=>{const pos=i+1;
    marks.push(Plot.areaX(p,{y:d=>d[0],x1:d=>pos-d[1],x2:d=>pos+d[1],fill:vcol[i],stroke:"#333",strokeWidth:.5,strokeOpacity:.85,curve:"monotone-y"}));
    const b=boxes[i];
    if(b){marks.push(Plot.ruleX([pos],{y1:b[0],y2:b[2],stroke:"#444",strokeWidth:2.2}));
      marks.push(Plot.dot([pos],{x:d=>d,y:b[1],r:1.15,fill:"#fff",stroke:"none"}));}
  });
  marks.push(Plot.frame({stroke:"#222",strokeWidth:.9}));
  marks.push(Plot.axisY({anchor:side,label:null,ticks,tickFormat:fmt,tickSize:3.5,tickPadding:2,fontSize:9,fontFamily:"DejaVu Sans",color:"#222",stroke:"#222"}));
  const W=57,H=69;
  const svg=Plot.plot({width:W+30,height:H,
    marginTop:0,marginBottom:0,marginLeft:side==="left"?30:0,marginRight:side==="right"?30:0,
    x:{domain:[.48,3.52],axis:null},y:{domain:[0,top],axis:null},marks});
  put(svg,side==="left"?left-30:left,y);
  txt(name,left+W/2,y-9.5,{size:9.5,it:1,center:1});
}
const f1=d=>d.toFixed(1),f0=d=>d.toFixed(0);
const rowB1=443.5,rowB2=544.5;
violin("PAX7",PAX7,[PAX7_box,null,null],3.63,[0,2],f0,39,rowB1,"right");
violin("APOE",APOE,[APOE_box,null,null],6.5,[0,2.5,5],f1,135.3,rowB1,"right");
violin("IGFBP5",IGFBP5,[IGFBP5_box,null,null],4.9,[0,2,4],f0,231.7,rowB1,"right");
violin("MYF5",MYF5,[MYF5_box,null,null],4.06,[0,2,4],f0,39,rowB2,"right");
violin("NCAM1",NCAM1,[NCAM1_box,null,null],2.92,[0,1,2],f0,135.3,rowB2,"right");
violin("CHRNA1",CHRNA1,[CHRNA1_box,null,null],2.92,[0,1,2],f0,231.7,rowB2,"right");
violin("ENO3",ENO3,[null,ENO3_box,ENO3g_box],6,[0,2,4],f0,421,rowB1,"left");
violin("TNNI2",TNNI2,[null,TNNI2_box,null],6.05,[0,2.5,5],f1,517.7,rowB1,"left");
violin("TNNT3",TNNT3,[null,TNNT3_box,null],6.2,[0,2.5,5],f1,614.3,rowB1,"left");
violin("MYL2",MYL2,[MYL2_box,MYL2b_box,MYL2g_box],7.37,[0,2.5,5],f1,421,rowB2,"left");
violin("TNNT1",TNNT1,[TNNT1_box,TNNT1b_box,TNNT1g_box],6.8,[0,2.5,5],f1,517.7,rowB2,"left");
violin("TNNC1",TNNC1v,[TNNC1_box,TNNC1b_box,TNNC1g_box],6.54,[0,2.5,5],f1,614.3,rowB2,"left");
txt("b",29,391,{size:14});txt("c",407,393,{size:14});
txt("Sc/myoblast specific markers",164,404,{size:9,center:1});rule(39,289,414,"#cfcfcf",1);
txt("FT/ST myocyte specific markers",546,404,{size:9,center:1});rule(421,671,416.5,"#d4d4d4",1.4);
txt("Normalized expression",18.5,530,{size:8.6,rot:-90});
[[74,79,144.7,150,208,213.3,627],[456,462,527.3,533.7,590.7,596.7,625.7]].forEach(([a,ta,b,tb,c,tc,y])=>{
  sw(a,y,brown,6.5);txt("¹Sc/myoblasts",ta,y,{size:6.8,color:"#333"});
  sw(b,y,blue,6.5);txt("²FT myocytes",tb,y,{size:6.8,color:"#333"});
  sw(c,y,gold,6.5);txt("³ST myocytes",tc,y,{size:6.8,color:"#333"});
});

/* ---------- scatter panels ---------- */
function scatter(o){
  const [L,R]=o.box,ML=20,MB=18,W=R-L,H=o.h;
  const marks=[
    Plot.areaY(o.fit,{x:d=>d[0],y1:d=>d[2],y2:d=>d[3],fill:"#9e9e9e",fillOpacity:.8}),
    Plot.dot(xy(o.data),{x:"x",y:"y",r:o.r,fill:o.col,stroke:o.st,strokeWidth:o.sw}),
    Plot.areaY(o.fit,{x:d=>d[0],y1:d=>d[2],y2:d=>d[3],fill:"#9e9e9e",fillOpacity:.55}),
    Plot.line(o.fit,{x:d=>d[0],y:d=>d[1],stroke:"#0c0c0c",strokeWidth:1.4}),
    Plot.frame({stroke:"#444",strokeWidth:.9}),
    Plot.axisX({label:null,ticks:o.xt,tickFormat:o.xf,tickSize:3,tickPadding:2.5,fontSize:9,color:"#222",stroke:"#444",fontFamily:"Noto Sans"}),
    Plot.axisY({label:null,ticks:o.yt,tickFormat:d3.format("d"),tickSize:3,tickPadding:2,fontSize:9,color:"#222",stroke:"#444",fontFamily:"Noto Sans"})
  ];
  put(Plot.plot({width:W+ML,height:H+MB,marginLeft:ML,marginRight:0,marginTop:0,marginBottom:MB,
    x:{domain:o.xd,axis:null},y:{domain:o.yd,axis:null},marks}),L-ML,o.top);
  txt(o.title,(L+R)/2,o.top-11,{size:8.5,it:1,center:1,color:"#333"});
  const rx=o.rLeft?L+8.2:R-42;
  const e=document.createElement("div");e.className="t";e.style.cssText=`left:${rx}px;top:${o.top+15}px;font-size:9px;transform:translateY(-50%);color:#222`;
  e.innerHTML=`r<sup style="font-size:5.5px;line-height:0">2</sup> = ${o.r2}`;page.appendChild(e);
}
const gD={h:111.7,top:688.3,r:2.5,col:blue,st:"#fff",sw:.5};
const gE={h:111.7,top:870.7,r:2.9,col:gold,st:"#444",sw:.7};
scatter({...gD,box:[25,230],title:"TNNC2",data:fT_TNNC2,fit:fitTNNC2,xd:[-.91,19.1],yd:[2.31,7.55],xt:[0,5,10,15],yt:[4,6],r2:"0.32",rLeft:1});
scatter({...gD,box:[252.3,457.3],title:"MYOD1",data:fT_MYOD1,fit:fitMYOD1d,xd:[-.61,13.05],yd:[-.365,3.46],xt:[0,2,4,6,8,10,12],yt:[0,1,2,3],r2:"0.13"});
scatter({...gD,box:[479.3,684],title:"MYF6",data:fT_MYF6,fit:fitMYF6d,xd:[-.86,18],yd:[-.14,4.21],xt:[0,5,10,15],yt:[0,1,2,3,4],r2:"0.22"});
scatter({...gE,box:[25,230],title:"TNNC1",data:sT_TNNC1,fit:fitTNNC1e,xd:[-.93,19.5],yd:[3.16,6.41],xt:[0,5,10,15],yt:[4,5,6],r2:"0.28",rLeft:1});
scatter({...gE,box:[252.3,457.3],title:"MYOD1",data:sT_MYOD1,fit:fitMYOD1e,xd:[.09,13.73],yd:[-.39,4.12],xt:[2,4,6,8,10,12],yt:[0,1,2,3,4],r2:"0.39"});
scatter({...gE,box:[479.3,684],title:"MYF6",data:sT_MYF6,fit:fitMYF6e,xd:[-.28,14.02],yd:[-.1,4.33],xt:[0,2.5,5,7.5,10,12.5],xf:f1,yt:[0,1,2,3,4],r2:"0.29"});
txt("d",28,664,{size:14});txt("e",25,843,{size:14});
txt("Normalized expression",6.5,837,{size:8.6,rot:-90});
txt("Pseudotime (PC1)",355,1014,{size:9.5,center:1});
</script></body></html>
